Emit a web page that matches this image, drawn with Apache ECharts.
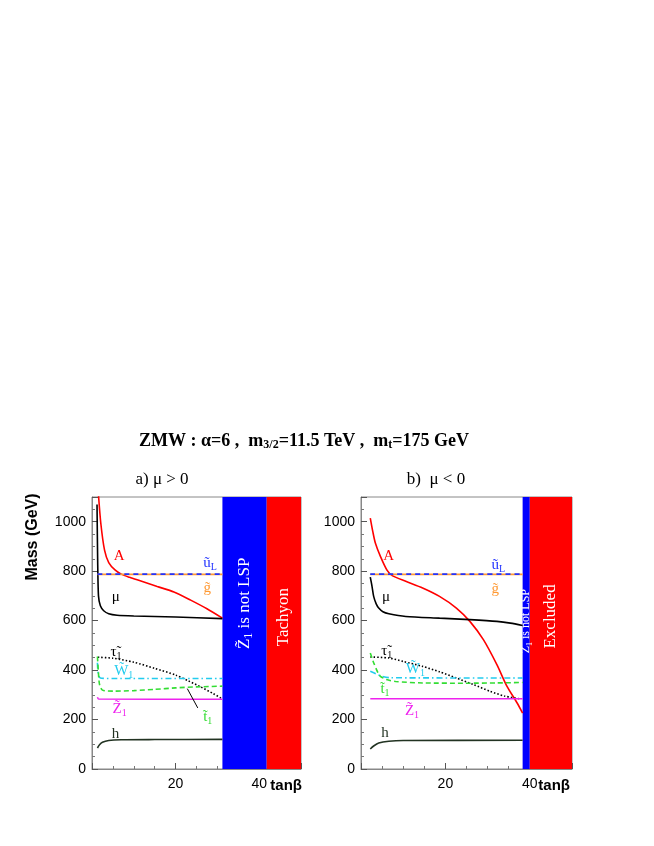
<!DOCTYPE html>
<html>
<head>
<meta charset="utf-8">
<script src="https://cdn.jsdelivr.net/npm/echarts@6/dist/echarts.min.js"></script>
<style>
html, body { margin: 0; padding: 0; background: #fff; }
#chart { width: 654px; height: 846px; }
</style>
</head>
<body>
<div id="chart"></div>
<script>
// data: [tanβ, mass (GeV)]  --- panel a) mu > 0
const posA    = [[1.5,1120],[2.1,995],[3.0,885],[4.0,835],[5.5,805],[7,788],[9,775],[11.7,760],[15.6,738],[19.6,716],[23.6,683],[27.5,648],[31.2,610]];
const posMu   = [[1.2,1070],[1.35,850],[1.55,700],[2,660],[2.8,640],[4,628],[6,622],[10,619],[20,615],[31.2,608]];
const posUL   = [[1.3,788],[31.2,788]];
const posGl   = [[1.3,787],[31.2,787]];
const posTau  = [[1.4,452],[5,448],[10,432],[15,407],[20,380],[23,357],[26,332],[29,305],[31.2,283]];
const posW1   = [[1.3,430],[1.5,385],[2,368],[5,366],[31.2,366]];
const posT1   = [[1.3,455],[1.5,400],[1.8,342],[2.5,319],[5,315],[10,317],[15,322],[20,328],[25,332],[31.2,335]];
const posZ1   = [[1.3,290],[1.6,283],[31.2,282]];
const posH    = [[1.3,85],[1.8,98],[2.5,108],[4,115],[7,118],[15,119],[31.2,120]];
const posBlue = [31.2, 41.8];   // Z1 is not LSP
const posRed  = [41.8, 50];     // Tachyon

// panel b) mu < 0
const negA    = [[2.2,1015],[2.8,960],[3.4,914],[4.6,860],[6.2,803],[7.4,782],[10.6,759],[14.6,732],[18.6,698],[22.6,651],[25.8,597],[29,523],[32.2,422],[34.6,334],[37,267],[38.3,226]];
const negMu   = [[2.2,776],[2.6,740],[3.0,698],[3.6,668],[4.2,651],[5.2,636],[6.6,628],[10.6,617],[18.6,610],[25.8,604],[32.2,597],[35.4,590],[38.3,580]];
const negUL   = [[2.2,788],[38.3,788]];
const negGl   = [[2.2,787],[38.3,787]];
const negTau  = [[2.2,453],[6.6,449],[10,435],[14.6,415],[18.6,393],[22.6,368],[26.6,342],[30.6,314],[34,295],[37.8,283]];
const negW1   = [[2.2,395],[3.5,385],[5,375],[7,369],[38.3,368]];
const negT1   = [[2.2,469],[3.0,430],[4.0,390],[4.6,375],[6,362],[8.2,354],[14.6,348],[25,347],[32,348],[38.3,350]];
const negZ1   = [[2.2,284],[38.3,284]];
const negH    = [[2.2,81],[3,93],[4.2,105],[6.6,112],[10,115],[38.3,116]];
const negBlue = [38.3, 40.0];   // Z1 is not LSP
const negRed  = [40.0, 50];     // Excluded

const xTicks = { min: 0, max: 50, interval: 20 };
const yTicks = { min: 0, max: 1100, interval: 200 };

const C = {
    A: '#ff0000', mu: '#000000', uL: '#2233ff', gl: '#ff9933', tau: '#000000',
    W1: '#22ccee', t1: '#33dd33', Z1: '#ee22ee', h: '#223322'
};
const SERIF = '"Liberation Serif", "DejaVu Serif", serif';
const SANS = '"Liberation Sans", Arial, sans-serif';

function curve(data, color, type, gi) {
    return {
        type: 'line', xAxisIndex: gi, yAxisIndex: gi, data: data,
        symbol: 'none', smooth: 0.25, clip: true,
        lineStyle: { color: color, width: 1.6, type: type },
        silent: true, z: 3
    };
}

function bands(blue, red, gi) {
    return {
        type: 'line', xAxisIndex: gi, yAxisIndex: gi, data: [], silent: true, z: 4,
        markArea: {
            silent: true,
            data: [
                [{ xAxis: blue[0], itemStyle: { color: '#0000ff', opacity: 1 } }, { xAxis: blue[1] }],
                [{ xAxis: red[0], itemStyle: { color: '#ff0000', opacity: 1 } }, { xAxis: red[1] }]
            ]
        }
    };
}

function xAxis(gi) {
    return {
        type: 'value', gridIndex: gi, min: xTicks.min, max: xTicks.max, interval: xTicks.interval,
        axisLine: { show: true, lineStyle: { color: '#888', width: 1 } },
        axisTick: { inside: true, length: 6, lineStyle: { color: '#555' } },
        minorTick: { show: true, splitNumber: 4, length: 3, lineStyle: { color: '#777' } },
        splitLine: { show: false },
        axisLabel: { showMinLabel: false, showMaxLabel: false, margin: 8, color: '#000', fontSize: 14, fontFamily: SANS }
    };
}
function yAxis(gi) {
    return {
        type: 'value', gridIndex: gi, min: yTicks.min, max: yTicks.max, interval: yTicks.interval,
        axisLine: { show: true, lineStyle: { color: '#888', width: 1 } },
        axisTick: { inside: true, length: 6, lineStyle: { color: '#555' } },
        minorTick: { show: true, splitNumber: 4, length: 3, lineStyle: { color: '#777' } },
        splitLine: { show: false },
        axisLabel: { showMaxLabel: false, margin: 6, color: '#000', fontSize: 14, fontFamily: SANS,
            formatter: function (v) { return String(v); } }
    };
}

const chart = echarts.init(document.getElementById('chart'), null, { renderer: 'canvas' });

chart.setOption({
    animation: false,
    backgroundColor: '#fff',
    grid: [
        { left: 92, top: 497, width: 209, height: 272, show: true, borderColor: '#888', borderWidth: 1 },
        { left: 361, top: 497, width: 211, height: 272, show: true, borderColor: '#888', borderWidth: 1 }
    ],
    xAxis: [xAxis(0), xAxis(1)],
    yAxis: [yAxis(0), yAxis(1)],
    series: [
        bands(posBlue, posRed, 0),
        curve(posA, C.A, 'solid', 0),
        curve(posMu, C.mu, 'solid', 0),
        curve(posGl, C.gl, 'solid', 0),
        curve(posUL, C.uL, [5, 4], 0),
        curve(posTau, C.tau, [1.5, 2], 0),
        curve(posW1, C.W1, [6, 3, 1.5, 3], 0),
        curve(posT1, C.t1, [5, 3], 0),
        curve(posZ1, C.Z1, 'solid', 0),
        curve(posH, C.h, 'solid', 0),

        bands(negBlue, negRed, 1),
        curve(negA, C.A, 'solid', 1),
        curve(negMu, C.mu, 'solid', 1),
        curve(negGl, C.gl, 'solid', 1),
        curve(negUL, C.uL, [5, 4], 1),
        curve(negTau, C.tau, [1.5, 2], 1),
        curve(negW1, C.W1, [6, 3, 1.5, 3], 1),
        curve(negT1, C.t1, [5, 3], 1),
        curve(negZ1, C.Z1, 'solid', 1),
        curve(negH, C.h, 'solid', 1)
    ]
});

// curve names, placed at data coordinates
function sub(main, s) { return '{m|' + main + '}{s|' + s + '}'; }
const labelsPos = [
    ['{m|A}', 5.2, 862, C.A], [sub('ũ', 'L'), 26.6, 833, C.uL], ['{m|g̃}', 26.7, 730, C.gl],
    ['{m|μ}', 4.7, 694, C.mu], [sub('τ̃', '1'), 4.4, 473, C.tau], [sub('W̃', '1'), 5.3, 396, C.W1],
    [sub('Z̃', '1'), 4.9, 241, C.Z1], [sub('t̃', '1'), 26.6, 209, C.t1], ['{m|h}', 4.7, 142, C.h]
];
const labelsNeg = [
    ['{m|A}', 5.3, 862, C.A], [sub('ũ', 'L'), 30.9, 825, C.uL], ['{m|g̃}', 30.9, 727, C.gl],
    ['{m|μ}', 5.0, 694, C.mu], [sub('τ̃', '1'), 4.8, 477, C.tau], [sub('W̃', '1'), 10.6, 404, C.W1],
    [sub('t̃', '1'), 4.6, 322, C.t1], [sub('Z̃', '1'), 10.4, 234, C.Z1], ['{m|h}', 4.8, 146, C.h]
];

function richFor(color, size, bold) {
    const w = bold ? 'bold' : 'normal';
    return {
        m: { fill: color, fontSize: size, fontFamily: SERIF, fontWeight: w },
        s: { fill: color, fontSize: Math.round(size * 0.68), fontFamily: SERIF, fontWeight: w, padding: [8, 0, 0, 0] }
    };
}

const graphics = [];
function addLabels(list, gi) {
    for (const [t, x, y, c] of list) {
        const p = chart.convertToPixel({ gridIndex: gi }, [x, y]);
        graphics.push({
            type: 'text', x: p[0], y: p[1], z: 10,
            style: { text: t, rich: richFor(c, 15, false), align: 'left', verticalAlign: 'middle' }
        });
    }
}
addLabels(labelsPos, 0);
addLabels(labelsNeg, 1);

// leader line to the t1 label in panel a)
const l0 = chart.convertToPixel({ gridIndex: 0 }, [22.8, 325]);
const l1 = chart.convertToPixel({ gridIndex: 0 }, [25.3, 247]);
graphics.push({ type: 'line', z: 10, shape: { x1: l0[0], y1: l0[1], x2: l1[0], y2: l1[1] }, style: { stroke: '#000', lineWidth: 1 } });

// texts inside the excluded bands
function bandText(t, band, y, gi, size) {
    const p = chart.convertToPixel({ gridIndex: gi }, [(band[0] + band[1]) / 2, y]);
    graphics.push({
        type: 'text', x: p[0], y: p[1], rotation: Math.PI / 2, z: 10,
        style: { text: t, rich: richFor('#ffffff', size, false), align: 'center', verticalAlign: 'middle' }
    });
}
bandText('{m|Z̃}{s|1}{m| is not LSP}', posBlue, 670, 0, 17);
bandText('{m|Tachyon}', posRed, 614, 0, 17);
bandText('{m|Z̃}{s|1}{m| is not LSP}', negBlue, 598, 1, 12);
bandText('{m|Excluded}', negRed, 617, 1, 17);

// titles
graphics.push({
    type: 'text', x: 304, y: 441, z: 10,
    style: {
        text: '{m|ZMW : α=6 ,  m}{s|3/2}{m|=11.5 TeV ,  m}{s|t}{m|=175 GeV}',
        rich: richFor('#000', 18, true), align: 'center', verticalAlign: 'middle'
    }
});
graphics.push({ type: 'text', x: 162, y: 480, style: { text: 'a) μ > 0', fill: '#000', font: '17px ' + SERIF, align: 'center', verticalAlign: 'middle' } });
graphics.push({ type: 'text', x: 436, y: 480, style: { text: 'b)  μ < 0', fill: '#000', font: '17px ' + SERIF, align: 'center', verticalAlign: 'middle' } });
graphics.push({ type: 'text', x: 33, y: 537, rotation: Math.PI / 2, style: { text: 'Mass (GeV)', fill: '#000', font: 'bold 16px ' + SANS, align: 'center', verticalAlign: 'middle' } });
graphics.push({ type: 'text', x: 302, y: 786, style: { text: 'tanβ', fill: '#000', font: 'bold 15px ' + SANS, align: 'right', verticalAlign: 'middle' } });
graphics.push({ type: 'text', x: 570, y: 786, style: { text: 'tanβ', fill: '#000', font: 'bold 15px ' + SANS, align: 'right', verticalAlign: 'middle' } });

chart.setOption({ graphic: graphics });

window.onresize = function () { chart.resize(); };
</script>
</body>
</html>
